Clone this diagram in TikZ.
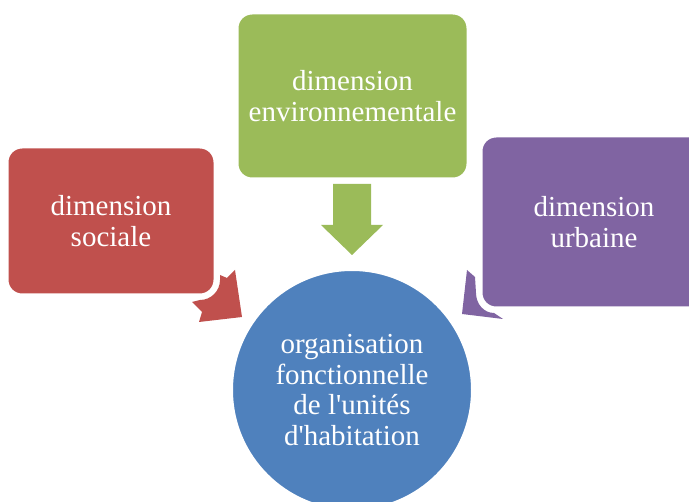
\documentclass[tikz,border=0pt]{standalone}
\usepackage{fontspec}
\setmainfont{Liberation Serif}
\newfontfamily\plainserif{Liberation Serif}
\definecolor{cred}{HTML}{C0504D}
\definecolor{cgreen}{HTML}{9BBB59}
\definecolor{cpurple}{HTML}{8064A2}
\definecolor{cblue}{HTML}{4F81BD}
\tikzset{
  dimbox/.style={rectangle, rounded corners=15pt, draw=white, line width=3pt,
    text=white, align=center, inner sep=0pt,
    font=\plainserif\fontsize{29}{30.5}\selectfont},
  hubnode/.style={circle, draw=white, line width=3pt, fill=cblue, text=white,
    align=center, inner sep=0pt, minimum size=241pt,
    font=\plainserif\fontsize{29}{30.5}\selectfont}
}
\begin{document}
\begin{tikzpicture}[x=1pt,y=-1pt]
\useasboundingbox (0,0) rectangle (689,502);
\clip (0,0) rectangle (689,502);
% arrows
\fill[cgreen] (333,184) -- (371,184) -- (371,225) -- (383,225) -- (352,255) -- (321,225) -- (333,225) -- cycle;
\fill[cred] (192,302) -- (202,312) -- (199,322) -- (242,317) -- (235,270) -- (227,278) -- (220,275)
  -- (220,280) .. controls (220,291) and (211,300) .. (200,300) -- cycle;
\fill[cpurple] (467,270) -- (462,314) -- (503,319) -- (494,313)
  .. controls (484,313) and (476,304) .. (476,293) -- (475,277) -- cycle;
% boxes
\node[dimbox, fill=cred, minimum width=208pt, minimum height=148pt] (soc) at (111,221) {dimension\\sociale};
\node[dimbox, fill=cgreen, minimum width=231pt, minimum height=166pt] (env) at (352.5,96) {dimension\\environnementale};
\node[dimbox, fill=cpurple, minimum width=226pt, minimum height=172pt] (urb) at (594,222) {dimension\\urbaine};
\node[hubnode] (org) at (352,390) {organisation\\fonctionnelle\\de l'unités\\d'habitation};
\end{tikzpicture}
\end{document}
